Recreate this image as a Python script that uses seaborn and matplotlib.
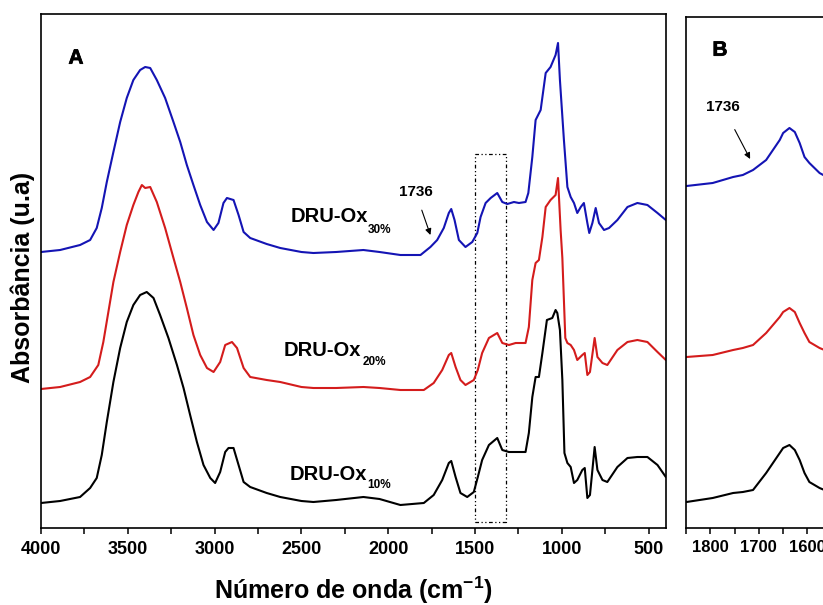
import matplotlib
matplotlib.use("Agg")
import matplotlib.pyplot as plt
from matplotlib.patches import Rectangle
from matplotlib.ticker import MultipleLocator
import matplotlib.patheffects as pe
import seaborn as sns
import pandas as pd

# ---------------- data ----------------
samples = ["DRU-Ox30%", "DRU-Ox20%", "DRU-Ox10%"]
sample_colors = {"DRU-Ox30%": "#1414b4", "DRU-Ox20%": "#d41c1c", "DRU-Ox10%": "#000000"}

# Panel A : wavenumber (cm-1) and absorbance (a.u., stacked)
a_wn_30 = [4000, 3890, 3775, 3717, 3679, 3650, 3621, 3583, 3544, 3506, 3468, 3429, 3400, 3371,
           3333, 3285, 3237, 3198, 3160, 3122, 3083, 3044, 3006, 2978, 2949, 2929, 2891, 2862,
           2833, 2795, 2700, 2622, 2500, 2431, 2300, 2143, 2050, 1930, 1814, 1757, 1718, 1680,
           1651, 1637, 1618, 1593, 1555, 1516, 1487, 1468, 1439, 1410, 1372, 1343, 1314, 1276,
           1247, 1209, 1193, 1170, 1151, 1122, 1093, 1065, 1036, 1022, 1011, 988, 968, 949,
           930, 911, 891, 873, 853, 842, 824, 805, 786, 757, 728, 680, 622, 565, 507, 449, 401]
a_ab_30 = [276, 278, 283, 288, 300, 320, 346, 376, 406, 430, 448, 458, 461, 460,
           448, 430, 406, 386, 363, 343, 323, 306, 298, 305, 325, 330, 328, 313,
           296, 290, 284, 280, 276, 275, 276, 278, 276, 273, 273, 281, 288, 300,
           315, 319, 308, 288, 281, 286, 295, 311, 325, 330, 335, 326, 324, 326,
           325, 326, 335, 371, 408, 418, 455, 461, 473, 485, 448, 388, 341, 331,
           325, 315, 321, 325, 305, 295, 305, 320, 305, 298, 300, 308, 321, 325, 323, 315, 308]

a_wn_20 = [4000, 3890, 3775, 3717, 3670, 3641, 3612, 3583, 3544, 3506, 3468, 3439, 3419, 3400,
           3371, 3333, 3285, 3237, 3198, 3160, 3122, 3083, 3044, 3006, 2968, 2939, 2900, 2871,
           2833, 2795, 2700, 2622, 2500, 2431, 2300, 2143, 2050, 1930, 1795, 1738, 1689, 1651,
           1637, 1612, 1584, 1555, 1507, 1484, 1459, 1420, 1372, 1343, 1305, 1266, 1209, 1190,
           1170, 1151, 1132, 1112, 1093, 1065, 1036, 1022, 1007, 997, 980, 968, 949, 930,
           911, 882, 868, 853, 838, 811, 795, 766, 738, 680, 622, 565, 507, 449, 401]
a_ab_20 = [139, 141, 146, 151, 163, 186, 216, 246, 276, 303, 323, 336, 343, 340,
           341, 326, 300, 270, 246, 220, 193, 173, 160, 156, 166, 183, 186, 180,
           160, 151, 148, 146, 141, 140, 140, 141, 140, 138, 138, 145, 158, 173,
           175, 161, 148, 143, 148, 158, 175, 190, 195, 185, 183, 185, 185, 201,
           248, 265, 268, 291, 321, 328, 333, 350, 298, 270, 190, 185, 183, 178,
           168, 173, 175, 153, 156, 190, 171, 165, 163, 178, 186, 188, 186, 176, 168]

a_wn_10 = [4000, 3890, 3775, 3717, 3679, 3650, 3621, 3583, 3544, 3506, 3468, 3429, 3391, 3352,
           3314, 3266, 3217, 3179, 3141, 3102, 3064, 3025, 2997, 2968, 2939, 2920, 2891, 2862,
           2833, 2795, 2700, 2622, 2500, 2431, 2300, 2143, 2050, 1930, 1795, 1738, 1689, 1651,
           1637, 1612, 1584, 1545, 1507, 1484, 1459, 1420, 1372, 1343, 1305, 1266, 1209, 1190,
           1170, 1151, 1132, 1112, 1086, 1055, 1036, 1026, 1011, 997, 985, 968, 949, 930,
           911, 882, 868, 853, 838, 811, 795, 766, 738, 680, 622, 565, 507, 449, 401]
a_ab_10 = [25, 27, 31, 40, 50, 73, 106, 146, 180, 206, 223, 233, 236, 230,
           213, 190, 163, 140, 113, 86, 63, 50, 45, 56, 76, 80, 80, 63,
           46, 41, 35, 31, 27, 26, 28, 31, 29, 23, 25, 33, 48, 65,
           67, 51, 35, 31, 36, 51, 68, 83, 90, 78, 76, 76, 76, 95,
           131, 151, 151, 175, 208, 210, 218, 215, 198, 148, 75, 65, 61, 45,
           48, 58, 60, 30, 33, 81, 58, 48, 46, 61, 70, 71, 71, 63, 51]

# Panel B : zoom 1850-1560 cm-1
b_wn = [1849, 1795, 1753, 1733, 1712, 1685, 1657, 1650, 1637, 1626, 1616, 1606, 1596, 1575, 1560]
b_ab_30 = [342, 345, 351, 353, 358, 368, 388, 395, 400, 396, 385, 371, 365, 355, 351]
b_ab_20 = [171, 173, 178, 180, 183, 195, 211, 216, 220, 216, 205, 195, 186, 180, 177]
b_ab_10 = [26, 30, 35, 36, 38, 55, 75, 80, 83, 78, 68, 55, 46, 40, 37]

a_ticks = [4000, 3500, 3000, 2500, 2000, 1500, 1000, 500]
b_ticks = [1800, 1700, 1600]
box_wn = (1500, 1320)
box_ab = (6, 374)

# ---------------- build tables ----------------
dfA = pd.concat([
    pd.DataFrame({"wn": a_wn_30, "ab": a_ab_30, "sample": samples[0]}),
    pd.DataFrame({"wn": a_wn_20, "ab": a_ab_20, "sample": samples[1]}),
    pd.DataFrame({"wn": a_wn_10, "ab": a_ab_10, "sample": samples[2]}),
], ignore_index=True)
dfB = pd.concat([
    pd.DataFrame({"wn": b_wn, "ab": b_ab_30, "sample": samples[0]}),
    pd.DataFrame({"wn": b_wn, "ab": b_ab_20, "sample": samples[1]}),
    pd.DataFrame({"wn": b_wn, "ab": b_ab_10, "sample": samples[2]}),
], ignore_index=True)

# ---------------- style ----------------
sns.set_style("white")
plt.rcParams["font.family"] = ["Liberation Sans", "DejaVu Sans"]
plt.rcParams["font.weight"] = "bold"
plt.rcParams["text.color"] = "black"
plt.rcParams["axes.labelcolor"] = "black"
plt.rcParams["xtick.color"] = "black"
plt.rcParams["mathtext.fontset"] = "custom"
plt.rcParams["mathtext.rm"] = "Liberation Sans:bold"
plt.rcParams["mathtext.bf"] = "Liberation Sans:bold"
plt.rcParams["mathtext.it"] = "Liberation Sans:bold"

W, H = 823, 605
fig = plt.figure(figsize=(W / 100, H / 100), dpi=100)
axA = fig.add_axes([41 / W, 1 - 528 / H, 625 / W, 514 / H])
axB = fig.add_axes([686 / W, 1 - 528 / H, 170 / W, 511 / H])

sns.lineplot(data=dfA, x="wn", y="ab", hue="sample", palette=sample_colors,
             estimator=None, legend=False, lw=1.5, ax=axA)
sns.lineplot(data=dfB, x="wn", y="ab", hue="sample", palette=sample_colors,
             estimator=None, legend=False, lw=1.5, ax=axB)

axA.set_xlim(4000, 400)
axA.set_ylim(0, 514)
axB.set_xlim(1850, 1500)
axB.set_ylim(0, 511)

for ax, ticks, minor, fs in [(axA, a_ticks, 250, 13), (axB, b_ticks, 50, 12)]:
    ax.set_xticks(ticks)
    ax.set_xticklabels([str(t) for t in ticks], fontsize=fs, fontweight="bold", color="black")
    ax.xaxis.set_minor_locator(MultipleLocator(minor))
    ax.set_yticks([])
    ax.set_xlabel("")
    ax.set_ylabel("")
    ax.tick_params(axis="x", which="both", direction="out", length=4, width=1.1,
                   color="black", pad=5, bottom=True)
    for s in ax.spines.values():
        s.set_linewidth(1.2)
        s.set_color("black")
        s.set_visible(True)

# dotted box in panel A
axA.add_patch(Rectangle((box_wn[1], box_ab[0]), box_wn[0] - box_wn[1], box_ab[1] - box_ab[0],
                        fill=False, lw=0.9, ec="black", ls=(0, (3, 2, 1, 2, 1, 2))))

# panel letters
heavy = [pe.withStroke(linewidth=0.5, foreground="black")]
axA.text(0.056, 0.914, "A", transform=axA.transAxes, fontsize=15, fontweight="bold",
         ha="center", va="center", path_effects=heavy)
axB.text(0.2, 0.935, "B", transform=axB.transAxes, fontsize=15, fontweight="bold",
         ha="center", va="center", path_effects=heavy)

# sample labels
lab_pos = {"DRU-Ox30%": (2564, 311, 2120, 298),
           "DRU-Ox20%": (2604, 177, 2149, 166),
           "DRU-Ox10%": (2570, 54, 2120, 43)}
for s, (x1, y1, x2, y2) in lab_pos.items():
    axA.text(x1, y1, "DRU-Ox", fontsize=14.5, fontweight="bold", ha="left", va="center")
    axA.text(x2, y2, s[-3:], fontsize=8.5, fontweight="bold", ha="left", va="center")

# 1736 annotations
axA.annotate("1736", xy=(1757, 293), xytext=(1843, 336), fontsize=11, fontweight="bold",
             ha="center", va="center",
             arrowprops=dict(arrowstyle="-|>", color="black", lw=0.8, mutation_scale=9,
                             shrinkA=6, shrinkB=0))
axB.annotate("1736", xy=(1718, 369), xytext=(1774, 421), fontsize=11, fontweight="bold",
             ha="center", va="center",
             arrowprops=dict(arrowstyle="-|>", color="black", lw=0.8, mutation_scale=9,
                             shrinkA=10, shrinkB=0))

# axis titles
fig.text(353 / W, 1 - 599 / H, r"Número de onda (cm$^{\mathbf{-1}}$)", fontsize=18,
         fontweight="bold", ha="center", va="baseline")
fig.text(23 / W, 1 - 277 / H, "Absorbância (u.a)", fontsize=18, fontweight="bold",
         rotation=90, ha="center", va="center")

fig.savefig("out.png", dpi=100, facecolor="white")
